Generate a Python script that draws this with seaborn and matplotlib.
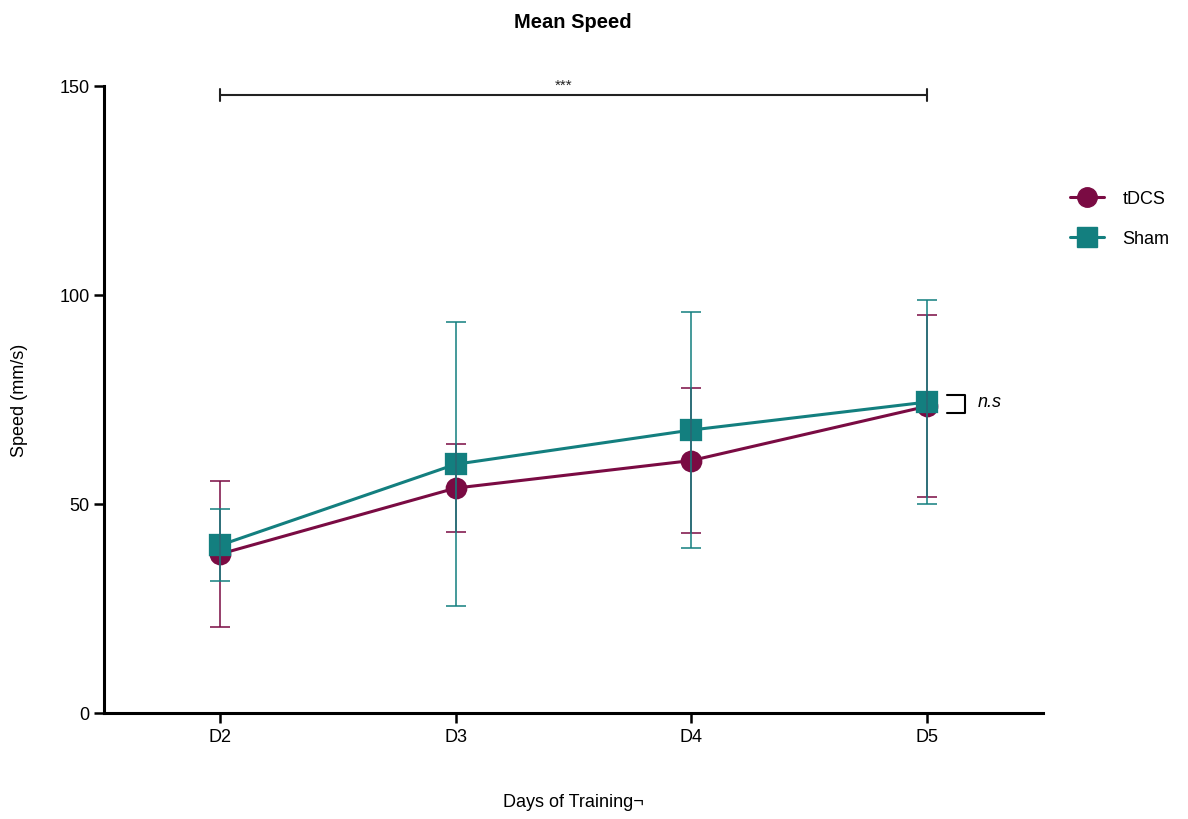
import matplotlib
matplotlib.use("Agg")
import matplotlib.pyplot as plt
import numpy as np
import pandas as pd
import seaborn as sns
from matplotlib.lines import Line2D

# Training days and group summaries (mean and SD of speed, mm/s)
days = ["D2", "D3", "D4", "D5"]
groups = ["tDCS", "Sham"]
tdcs_mean = [38.0, 53.8, 60.4, 73.4]
tdcs_sd = [17.4, 10.6, 17.3, 21.8]
sham_mean = [40.1, 59.5, 67.7, 74.4]
sham_sd = [8.6, 34.0, 28.2, 24.4]

colors = {"tDCS": "#7a0b43", "Sham": "#137f7f"}
markers = {"tDCS": "o", "Sham": "s"}

df = pd.DataFrame({
    "day": days * 2,
    "group": ["tDCS"] * len(days) + ["Sham"] * len(days),
    "speed": tdcs_mean + sham_mean,
    "sd": tdcs_sd + sham_sd,
})

sns.set_theme(style="ticks")
plt.rcParams["font.family"] = ["Liberation Sans", "DejaVu Sans"]
plt.rcParams["text.color"] = "black"
plt.rcParams["axes.labelcolor"] = "black"

fig = plt.figure(figsize=(11.88, 8.2), dpi=100)
ax = fig.add_axes([104 / 1188, 1 - 714 / 820, (1043 - 104) / 1188, (714 - 87) / 820])

sns.pointplot(
    data=df, x="day", y="speed", hue="group", order=days, hue_order=groups,
    palette=colors, markers=[markers[g] for g in groups], linestyles="-",
    errorbar=None, markersize=14, linewidth=2.2, ax=ax, legend=False,
)

# Mean +/- SD error bars
for g in groups:
    sub = df[df["group"] == g]
    ax.errorbar(
        np.arange(len(days)), sub["speed"], yerr=sub["sd"], fmt="none",
        ecolor=colors[g], elinewidth=1.3, capsize=7.5, capthick=1.3,
        alpha=0.85, zorder=5,
    )

ax.set_xlim(-0.49, 3.49)
ax.set_ylim(0, 150)
ax.set_yticks([0, 50, 100, 150])
ax.set_xticks(range(len(days)))
ax.set_xticklabels(days)
ax.tick_params(axis="both", labelsize=13, width=1.8, length=7, color="black", labelcolor="black")
for side in ["top", "right"]:
    ax.spines[side].set_visible(False)
for side in ["left", "bottom"]:
    ax.spines[side].set_linewidth(2.2)
    ax.spines[side].set_color("black")

ax.set_xlabel("Days of Training¬", fontsize=13)
ax.set_ylabel("Speed (mm/s)", fontsize=13)
ax.xaxis.set_label_coords(0.5, -0.128)
ax.yaxis.set_label_coords(-0.081, 0.5)

fig.text(573 / 1188, 1 - 22 / 820, "Mean Speed", ha="center", va="center",
         fontsize=14.5, fontweight="bold")

# Significance across days (D2 vs D5)
y_sig = 147.8
ax.plot([0, 3], [y_sig, y_sig], color="#222222", lw=1.5, clip_on=False)
for xx in [0, 3]:
    ax.plot([xx, xx], [y_sig - 1.5, y_sig + 1.5], color="#222222", lw=1.5, clip_on=False)
ax.text(1.46, y_sig + 0.8, "***", ha="center", va="bottom", fontsize=11, color="#222222")

# Group comparison at D5
ax.plot([3.084, 3.161, 3.161, 3.084], [76.1, 76.1, 71.8, 71.8], color="black", lw=1.5, clip_on=False)
ax.text(3.212, 74.6, "n.s", ha="left", va="center", fontsize=13, style="italic")

handles = [
    Line2D([], [], color=colors[g], marker=markers[g], markersize=14, lw=2.2)
    for g in groups
]
fig.legend(handles, groups, loc="upper left", bbox_to_anchor=(1070 / 1188, 1 - 191 / 820),
           frameon=False, fontsize=13, handlelength=1.9, handletextpad=1.0,
           labelspacing=1.3, borderaxespad=0, borderpad=0)

fig.savefig("out.png", dpi=100, facecolor="white")
